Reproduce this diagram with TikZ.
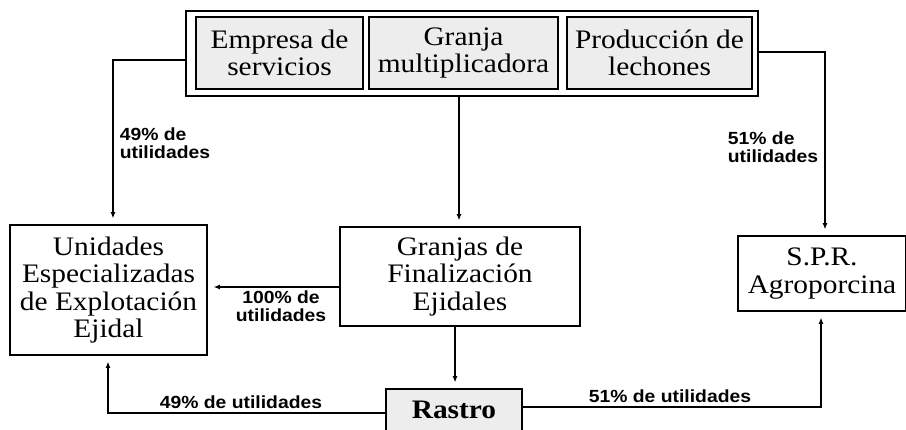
\documentclass[tikz,border=0pt]{standalone}
\usepackage{fontspec}
\setmainfont{Liberation Serif}[FakeStretch=1.1]
\newfontfamily\labelfont{Liberation Sans}[FakeStretch=1.1]
\usetikzlibrary{arrows.meta}

\begin{document}
\begin{tikzpicture}[x=0.025cm, y=-0.025cm, line width=1.2pt,
		caja/.style={draw, align=center, inner sep=0pt, font=\fontsize{19}{19.5}\selectfont},
		sombra/.style={caja, fill=black!7},
		etiqueta/.style={inner sep=0pt, font=\labelfont\bfseries\fontsize{12.5}{12.5}\selectfont},
		flecha/.style={-{Latex[length=4.5pt,width=3.5pt]}, shorten >=4pt}]
			%%%%% START %%%%%
			
			\useasboundingbox (0,0) rectangle (906,429);
			\clip (0,0) rectangle (906,429);
			
			\node[caja, fill=white, minimum width=14.3cm, minimum height=2.125cm] (arriba) at (472,53.5) {};
			\node[sombra, minimum width=4.175cm, minimum height=1.8cm] (empresa) at (279.5,53) {Empresa de\\servicios};
			\node[sombra, minimum width=4.725cm, minimum height=1.8cm] (granja) at (463.5,53) {Granja\\multiplicadora};
			\node[sombra, minimum width=4.625cm, minimum height=1.8cm] (produccion) at (659.5,53) {Producción de\\lechones};
			
			\node[caja, minimum width=4.925cm, minimum height=3.25cm] (unidades) at (108.5,290) {Unidades\\Especializadas\\de Explotación\\Ejidal};
			\node[caja, minimum width=6cm, minimum height=2.475cm] (granjas) at (460,276.5) {Granjas de\\Finalización\\Ejidales};
			\node[caja, minimum width=4.2cm, minimum height=1.875cm] (spr) at (822,273.5) {S.P.R.\\Agroporcina};
			\node[sombra, minimum width=3.4cm, minimum height=1.05cm, font=\fontsize{19}{19.5}\selectfont\bfseries] (rastro) at (454,410) {Rastro};
			
			\draw[flecha] (arriba.west |- 0,60) -- (113,60) -- (unidades.north -| 113,0);
			\draw[flecha] (arriba.south -| 459,0) -- (granjas.north -| 459,0);
			\draw[flecha] (arriba.east |- 0,52) -- (825,52) -- (spr.north -| 825,0);
			\draw[flecha] (granjas.west |- 0,287) -- (unidades.east |- 0,287);
			\draw[flecha] (granjas.south -| 455,0) -- (rastro.north -| 455,0);
			\draw[flecha] (rastro.west |- 0,413) -- (108,413) -- (unidades.south -| 108,0);
			\draw[flecha] (rastro.east |- 0,407) -- (821,407) -- (spr.south -| 821,0);
			
			\node[etiqueta, align=left, anchor=west] (u49a) at (119,143) {49\% de\\utilidades};
			\node[etiqueta, align=left, anchor=east] (u51a) at (819,147) {51\% de\\utilidades};
			\node[etiqueta, align=center] (u100) at (281,306) {100\% de\\utilidades};
			\node[etiqueta] (u49b) at (241,402) {49\% de utilidades};
			\node[etiqueta] (u51b) at (670,396) {51\% de utilidades};
			
			%%%%% END %%%%%
\end{tikzpicture}
\end{document}
